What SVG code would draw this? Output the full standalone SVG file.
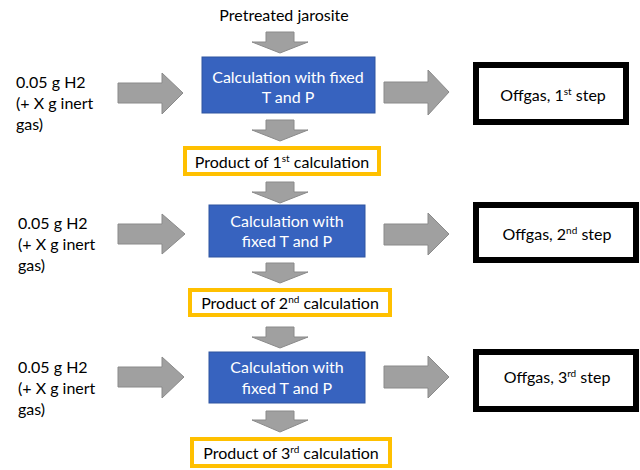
<svg xmlns="http://www.w3.org/2000/svg" width="640" height="470" viewBox="0 0 640 470">
<style>
text{font-family:Lato,"Open Sans","Liberation Sans",sans-serif;font-size:16px;fill:#000}
.w{fill:#fff;text-anchor:middle}
.c{text-anchor:middle}
.arr{fill:#A0A0A0;stroke:#8A8A8A;stroke-width:1}
.blue{fill:#3763BF;stroke:#2F55A0;stroke-width:1}
.org{fill:#fff;stroke:#FFC000;stroke-width:4}
.blk{fill:#fff;stroke:#000;stroke-width:6}
.sup{font-size:10px}
</style>
<rect width="640" height="470" fill="#fff"/>
<g id="connectors">
<path class="arr" d="M266 32H294V42H308L280 53L252 42H266Z"/>
<path class="arr" d="M266 120H294V130H308L280 141L252 130H266Z"/>
<path class="arr" d="M266 182H294V192H308L280 203L252 192H266Z"/>
<path class="arr" d="M266 263H294V272H308L280 283L252 272H266Z"/>
<path class="arr" d="M266 327H294V337H308L280 348L252 337H266Z"/>
<path class="arr" d="M266 411H294V420H308L280 432L252 420H266Z"/>
<path class="arr" d="M118 83H162V73L183 93L162 114V103H118Z"/>
<path class="arr" d="M118 224H162V214L185 234L162 254V244H118Z"/>
<path class="arr" d="M118 367H162V357L184 377L162 398V387H118Z"/>
<path class="arr" d="M384 82H428V70L449 92L428 115V103H384Z"/>
<path class="arr" d="M384 224H428V213L449 234L428 255V245H384Z"/>
<path class="arr" d="M384 366H428V356L449 377L428 398V388H384Z"/>
</g>
<g id="input-top"><text class="c" x="284" y="21">Pretreated jarosite</text></g>
<g id="input-1"><text x="16" y="88">0.05 g H2</text><text x="16" y="109">(+ X g inert</text><text x="16" y="130">gas)</text></g>
<g id="input-2"><text x="18" y="229">0.05 g H2</text><text x="18" y="250">(+ X g inert</text><text x="18" y="271">gas)</text></g>
<g id="input-3"><text x="18" y="373">0.05 g H2</text><text x="18" y="394">(+ X g inert</text><text x="18" y="415">gas)</text></g>
<g id="calc-1"><rect class="blue" x="202" y="57" width="173" height="56"/><text class="w" x="288" y="82.5">Calculation with fixed</text><text class="w" x="288" y="102.5">T and P</text></g>
<g id="calc-2"><rect class="blue" x="209" y="205" width="156" height="52"/><text class="w" x="287" y="226.5">Calculation with</text><text class="w" x="287" y="246.5">fixed T and P</text></g>
<g id="calc-3"><rect class="blue" x="209" y="352" width="156" height="51"/><text class="w" x="287" y="372.5">Calculation with</text><text class="w" x="287" y="393.5">fixed T and P</text></g>
<g id="product-1"><rect class="org" x="185" y="148" width="194" height="26"/><text class="c" x="282" y="167.5">Product of 1<tspan class="sup" dy="-6">st</tspan><tspan dy="6"> calculation</tspan></text></g>
<g id="product-2"><rect class="org" x="190" y="290" width="200" height="25"/><text class="c" x="290" y="309">Product of 2<tspan class="sup" dy="-6">nd</tspan><tspan dy="6"> calculation</tspan></text></g>
<g id="product-3"><rect class="org" x="192" y="439" width="198" height="27"/><text class="c" x="291" y="458.5">Product of 3<tspan class="sup" dy="-6">rd</tspan><tspan dy="6"> calculation</tspan></text></g>
<g id="offgas-1"><rect class="blk" x="476" y="65" width="150" height="57"/><text class="c" x="553" y="101">Offgas, 1<tspan class="sup" dy="-6">st</tspan><tspan dy="6"> step</tspan></text></g>
<g id="offgas-2"><rect class="blk" x="476" y="205" width="160" height="55"/><text class="c" x="557" y="239.5">Offgas, 2<tspan class="sup" dy="-6">nd</tspan><tspan dy="6"> step</tspan></text></g>
<g id="offgas-3"><rect class="blk" x="476" y="352" width="160" height="57"/><text class="c" x="557" y="382.5">Offgas, 3<tspan class="sup" dy="-6">rd</tspan><tspan dy="6"> step</tspan></text></g>
</svg>
